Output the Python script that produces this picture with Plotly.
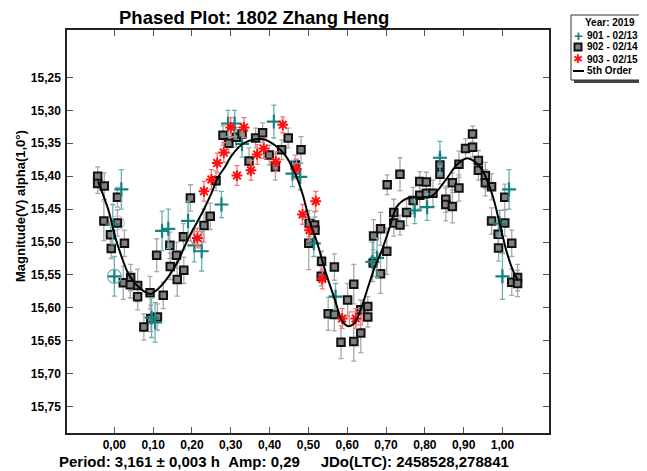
import plotly.graph_objects as go

# ---------------- data ----------------
phase_902 = [-0.043, -0.043, -0.026, 0.008, -0.027, 0.008, -0.010, 0.026, -0.008, 0.023,
             0.042, 0.041, 0.060, 0.060, 0.092, 0.126, 0.111, 0.094, 0.076, 0.109,
             0.143, 0.144, 0.160, 0.178, 0.179, 0.162, 0.196, 0.231, 0.247, 0.262,
             0.280, 0.295, 0.314, 0.329, 0.364, 0.382, 0.347, 0.399, 0.415, 0.448,
             0.431, 0.481, 0.466, 0.502, 0.516, 0.517, 0.501, 0.534, 0.533, 0.567,
             0.551, 0.567, 0.601, 0.617, 0.584, 0.617, 0.635, 0.635, 0.653, 0.653,
             0.668, 0.686, 0.686, 0.702, 0.667, 0.720, 0.720, 0.736, 0.753, 0.770,
             0.703, 0.736, 0.787, 0.804, 0.787, 0.804, 0.821, 0.839, 0.839, 0.854,
             0.854, 0.871, 0.871, 0.888, 0.888, 0.905, 0.923, 0.923, 0.938, 0.938,
             0.956, 0.956, 0.972, 1.006, 0.972, 0.989, 1.006, 0.990, 1.024, 1.024,
             1.039, 1.039]
mag_902 = [15.400, 15.411, 15.415, 15.432, 15.468, 15.471, 15.489, 15.502, 15.510, 15.562,
           15.554, 15.565, 15.566, 15.583, 15.577, 15.581, 15.614, 15.616, 15.629, 15.520,
           15.505, 15.537, 15.520, 15.492, 15.543, 15.557, 15.433, 15.475, 15.461, 15.407,
           15.338, 15.350, 15.341, 15.336, 15.342, 15.334, 15.377, 15.368, 15.386, 15.342,
           15.360, 15.360, 15.383, 15.472, 15.474, 15.482, 15.502, 15.529, 15.552, 15.538,
           15.609, 15.610, 15.588, 15.564, 15.652, 15.651, 15.638, 15.603, 15.598, 15.614,
           15.491, 15.480, 15.548, 15.514, 15.532, 15.455, 15.471, 15.474, 15.455, 15.437,
           15.413, 15.397, 15.408, 15.409, 15.429, 15.426, 15.426, 15.383, 15.397, 15.435,
           15.443, 15.410, 15.446, 15.382, 15.418, 15.358, 15.336, 15.356, 15.376, 15.391,
           15.399, 15.410, 15.416, 15.432, 15.468, 15.488, 15.471, 15.509, 15.502, 15.561,
           15.554, 15.563]
err_902 = [0.014, 0.015, 0.020, 0.015, 0.030, 0.020, 0.020, 0.020, 0.015, 0.025,
           0.020, 0.020, 0.025, 0.020, 0.025, 0.020, 0.020, 0.020, 0.020, 0.025,
           0.020, 0.020, 0.020, 0.020, 0.020, 0.025, 0.020, 0.025, 0.020, 0.015,
           0.015, 0.015, 0.015, 0.015, 0.015, 0.015, 0.020, 0.015, 0.020, 0.015,
           0.015, 0.020, 0.015, 0.020, 0.020, 0.020, 0.040, 0.015, 0.015, 0.020,
           0.025, 0.025, 0.025, 0.030, 0.025, 0.030, 0.030, 0.015, 0.015, 0.015,
           0.025, 0.025, 0.030, 0.035, 0.020, 0.020, 0.020, 0.015, 0.020, 0.020,
           0.015, 0.025, 0.015, 0.015, 0.020, 0.020, 0.020, 0.015, 0.015, 0.020,
           0.025, 0.015, 0.025, 0.020, 0.020, 0.015, 0.012, 0.015, 0.015, 0.015,
           0.020, 0.020, 0.020, 0.020, 0.020, 0.020, 0.020, 0.020, 0.020, 0.020,
           0.020, 0.020]

phase_901 = [0.018, -0.004, 0.000, 0.123, 0.139, 0.190, 0.225, 0.206, 0.276, 0.096,
             0.105, 0.293, 0.310, 0.411, 0.329, 0.459, 0.479, 0.514, 0.570, 0.665,
             0.677, 0.774, 0.806, 0.839, 1.017, 1.000, 0.993]
mag_901 = [15.420, 15.473, 15.552, 15.483, 15.480, 15.468, 15.514, 15.505, 15.443, 15.615,
           15.622, 15.320, 15.320, 15.317, 15.351, 15.396, 15.401, 15.502, 15.583, 15.530,
           15.524, 15.452, 15.447, 15.372, 15.420, 15.552, 15.472]
err_901 = [0.030, 0.030, 0.030, 0.030, 0.030, 0.030, 0.030, 0.025, 0.020, 0.030,
           0.030, 0.020, 0.020, 0.025, 0.020, 0.020, 0.020, 0.020, 0.020, 0.030,
           0.030, 0.020, 0.020, 0.025, 0.030, 0.035, 0.020]

phase_903 = [0.214, 0.231, 0.250, 0.265, 0.282, 0.300, 0.334, 0.316, 0.352, 0.368,
             0.385, 0.416, 0.434, 0.469, 0.485, 0.519, 0.503, 0.536, 0.587, 0.622]
mag_903 = [15.494, 15.423, 15.405, 15.380, 15.364, 15.326, 15.326, 15.399, 15.391, 15.367,
           15.358, 15.378, 15.322, 15.389, 15.458, 15.438, 15.482, 15.556, 15.616, 15.616]
err_903 = [0.015, 0.015, 0.015, 0.015, 0.015, 0.015, 0.015, 0.015, 0.015, 0.015,
           0.015, 0.015, 0.012, 0.015, 0.015, 0.015, 0.015, 0.015, 0.015, 0.015]

# 5th order Fourier fit
fit_phase = [-0.042, -0.015, 0.002, 0.019, 0.036, 0.062, 0.092, 0.113, 0.139, 0.165,
             0.190, 0.225, 0.250, 0.268, 0.285, 0.303, 0.333, 0.363, 0.384, 0.414,
             0.440, 0.466, 0.486, 0.504, 0.522, 0.543, 0.569, 0.586, 0.603, 0.620,
             0.637, 0.654, 0.671, 0.689, 0.710, 0.727, 0.753, 0.779, 0.813, 0.830,
             0.856, 0.882, 0.907, 0.924, 0.942, 0.959, 0.976, 0.993, 1.010, 1.027, 1.040]
fit_mag = [15.408, 15.452, 15.492, 15.523, 15.548, 15.568, 15.579, 15.571, 15.553, 15.528,
           15.495, 15.457, 15.426, 15.401, 15.386, 15.368, 15.350, 15.344, 15.344, 15.353,
           15.368, 15.396, 15.429, 15.470, 15.500, 15.543, 15.589, 15.619, 15.628, 15.622,
           15.599, 15.568, 15.538, 15.513, 15.477, 15.447, 15.434, 15.432, 15.432, 15.424,
           15.404, 15.383, 15.373, 15.376, 15.386, 15.404, 15.432, 15.472, 15.513, 15.543, 15.558]

# highlighted reference points (first point of each session)
ref_901 = (0.000, 15.552)
ref_902 = (0.008, 15.471)
ref_903a = (0.214, 15.494)
ref_903b = (0.622, 15.616)

x_ticks = [0.0, 0.1, 0.2, 0.3, 0.4, 0.5, 0.6, 0.7, 0.8, 0.9, 1.0]
y_ticks = [15.25, 15.30, 15.35, 15.40, 15.45, 15.50, 15.55, 15.60, 15.65, 15.70, 15.75]

legend_title = "Year: 2019"
legend_labels = ["901 - 02/13", "902 - 02/14", "903 - 02/15", "5th Order"]
title_text = "Phased Plot: 1802 Zhang Heng"
y_title = "Magnitude(V) alpha(1,0°)"
footer = "Period: 3,161 ± 0,003 h\u00a0\u00a0Amp: 0,29\u00a0\u00a0\u00a0\u00a0\u00a0JDo(LTC): 2458528,278841"

# ---------------- styles ----------------
FONT = "Liberation Sans, Arial, sans-serif"
TEAL = "#148282"
TEAL_ERR = "#6ab2b2"
RED = "#ff1010"
RED_ERR = "#ff7070"
GREY_ERR = "#a8a8a8"

# page body has an 8px margin: the figure is drawn 8px in from the window corner
OFF = 8
W, H = 647 - OFF, 471 - OFF
ML, MR, MT, MB = 67 - OFF, 98, 30 - OFF, 38
PW, PH = W - ML - MR, H - MT - MB


def px(x):
    # window pixel x -> paper coordinate
    return (x - OFF - ML) / PW


def py(y):
    # window pixel y -> paper coordinate
    return (H - MB - (y - OFF)) / PH


fig = go.Figure()

fig.add_trace(go.Scatter(
    x=phase_902, y=mag_902, mode="markers", name=legend_labels[1], showlegend=False,
    marker=dict(symbol="square", size=7.5, color="#808080", line=dict(color="#111111", width=2)),
    error_y=dict(type="data", array=err_902, color=GREY_ERR, thickness=1.3, width=2.5)))

fig.add_trace(go.Scatter(
    x=phase_901, y=mag_901, mode="markers", name=legend_labels[0], showlegend=False,
    marker=dict(symbol="cross-thin-open", size=10, color=TEAL, line=dict(color=TEAL, width=2.2)),
    error_y=dict(type="data", array=err_901, color=TEAL_ERR, thickness=1.3, width=2.5)))

fig.add_trace(go.Scatter(
    x=phase_903, y=mag_903, mode="markers", name=legend_labels[2], showlegend=False,
    marker=dict(symbol="asterisk-open", size=9, color=RED, line=dict(color=RED, width=2)),
    error_y=dict(type="data", array=err_903, color=RED_ERR, thickness=1.3, width=2.5)))

# highlight rings
fig.add_trace(go.Scatter(x=[ref_901[0]], y=[ref_901[1]], mode="markers", showlegend=False,
                         hoverinfo="skip",
                         marker=dict(symbol="circle-open", size=14, color=TEAL_ERR, line=dict(width=1.2))))
fig.add_trace(go.Scatter(x=[ref_902[0]], y=[ref_902[1]], mode="markers", showlegend=False,
                         hoverinfo="skip",
                         marker=dict(symbol="circle-open", size=14, color="#c8c8c8", line=dict(width=1.2))))
fig.add_trace(go.Scatter(x=[ref_903a[0]], y=[ref_903a[1]], mode="markers", showlegend=False,
                         hoverinfo="skip",
                         marker=dict(symbol="circle-open", size=14, color=RED_ERR, line=dict(width=1.2))))
fig.add_trace(go.Scatter(x=[ref_903b[0]], y=[ref_903b[1]], mode="markers", showlegend=False,
                         hoverinfo="skip",
                         marker=dict(symbol="square-open", size=13, color=RED_ERR, line=dict(width=1.2))))

fig.add_trace(go.Scatter(
    x=fit_phase, y=fit_mag, mode="lines", name=legend_labels[3], showlegend=False,
    line=dict(color="black", width=2, shape="spline", smoothing=0.8)))

axis_common = dict(
    showgrid=False, zeroline=False, showline=True, linecolor="#222222", linewidth=1.5,
    mirror="ticks", ticks="inside", ticklen=6, tickwidth=1, tickcolor="#555555",
    tickformat=".2f", tickfont=dict(family=FONT, size=12, color="black", weight="bold"),
)

fig.update_layout(
    width=W, height=H,
    margin=dict(l=ML, r=MR, t=MT, b=MB, pad=0),
    paper_bgcolor="white", plot_bgcolor="white",
    separators=",.",
    showlegend=False,
    xaxis=dict(range=[-0.122, 1.12], tickvals=x_ticks, **axis_common),
    yaxis=dict(range=[15.79, 15.178], tickvals=y_ticks, ticklabelstandoff=2, **axis_common),
)

bold = dict(family=FONT, color="black", weight="bold")

# title, axis title, footer
fig.add_annotation(text=title_text, xref="paper", yref="paper", x=px(254), y=py(17),
                   showarrow=False, xanchor="center", yanchor="middle",
                   font=dict(size=18.5, **bold))
fig.add_annotation(text=y_title, xref="paper", yref="paper", x=px(20), y=py(206),
                   showarrow=False, textangle=-90, xanchor="center", yanchor="middle",
                   font=dict(size=13, **bold))
fig.add_annotation(text=footer, xref="paper", yref="paper", x=px(57), y=py(461),
                   showarrow=False, xanchor="left", yanchor="middle",
                   font=dict(size=15, **bold))

# legend box with shadow
LX0, LX1, LY0, LY1 = 571, 640, 15, 80
fig.add_shape(type="rect", xref="paper", yref="paper",
              x0=px(LX0 + 3), x1=px(LX1 + 3), y0=py(LY1 + 3), y1=py(LY0 + 3),
              fillcolor="#444444", line=dict(width=0), layer="above")
fig.add_shape(type="rect", xref="paper", yref="paper",
              x0=px(LX0), x1=px(LX1), y0=py(LY1), y1=py(LY0),
              fillcolor="white", line=dict(color="#333333", width=1), layer="above")

fig.add_annotation(text=legend_title, xref="paper", yref="paper", x=px(637), y=py(23),
                   showarrow=False, xanchor="right", yanchor="middle", font=dict(size=10, **bold))
rows = [35, 47, 59, 71]
for lab, yy in zip(legend_labels, rows):
    fig.add_annotation(text=lab, xref="paper", yref="paper", x=px(585), y=py(yy),
                       showarrow=False, xanchor="left", yanchor="middle", font=dict(size=10, **bold))
# legend swatches
fig.add_annotation(text="+", xref="paper", yref="paper", x=px(578), y=py(35),
                   showarrow=False, xanchor="center", yanchor="middle",
                   font=dict(size=15, family=FONT, color=TEAL, weight="bold"))
fig.add_shape(type="rect", xref="paper", yref="paper", x0=px(574.5), x1=px(581.5),
              y0=py(50.5), y1=py(43.5), fillcolor="#808080", line=dict(color="#111111", width=2),
              layer="above")
fig.add_annotation(text="✱", xref="paper", yref="paper", x=px(578), y=py(59),
                   showarrow=False, xanchor="center", yanchor="middle",
                   font=dict(size=12, family="DejaVu Sans", color=RED))
fig.add_shape(type="line", xref="paper", yref="paper", x0=px(573), x1=px(584),
              y0=py(71), y1=py(71), line=dict(color="black", width=2), layer="above")

fig.write_html("out.html")
